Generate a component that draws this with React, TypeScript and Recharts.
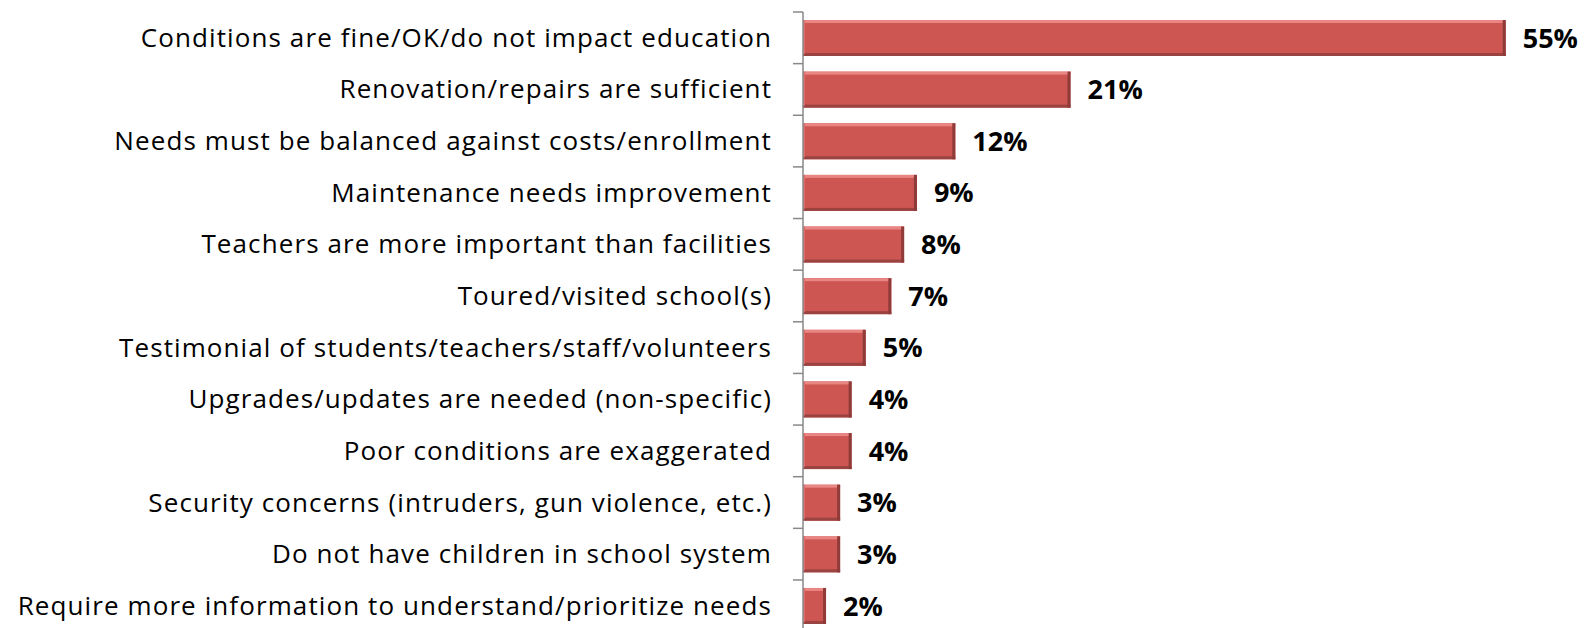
import { BarChart, Bar, XAxis, YAxis, LabelList } from "recharts";

const categories = [
  "Conditions are fine/OK/do not impact education",
  "Renovation/repairs are sufficient",
  "Needs must be balanced against costs/enrollment",
  "Maintenance needs improvement",
  "Teachers are more important than facilities",
  "Toured/visited school(s)",
  "Testimonial of students/teachers/staff/volunteers",
  "Upgrades/updates are needed (non-specific)",
  "Poor conditions are exaggerated",
  "Security concerns (intruders, gun violence, etc.)",
  "Do not have children in school system",
  "Require more information to understand/prioritize needs",
];

const shares = [54.9, 20.9, 11.9, 8.9, 7.9, 6.9, 4.9, 3.8, 3.8, 2.9, 2.9, 1.8];

const data = categories.map((category, i) => ({ category, share: shares[i] }));

const font = "'Open Sans', 'Noto Sans', sans-serif";
const axisX = 803;

function BevelBar(props: any) {
  const { x, y, width, height } = props;
  if (!width || width <= 0) return null;
  return (
    <g>
      <rect x={x} y={y} width={width} height={height} fill="#cd5653" />
      <rect x={x} y={y} width={width} height={3} fill="#e98683" />
      <rect x={x} y={y + height - 3} width={width} height={3} fill="#9a4341" />
      <rect x={x + width - 3} y={y} width={3} height={height} fill="#8e3b39" />
      <rect x={x} y={y} width={2} height={height - 2} fill="#dc6d6a" />
    </g>
  );
}

function CategoryTick(props: any) {
  const { y, payload } = props;
  const band = 51.63;
  return (
    <g>
      <line x1={axisX - 10} x2={axisX} y1={y - band / 2} y2={y - band / 2} stroke="#888" strokeWidth={1.5} />
      <text x={axisX - 31} y={y} dy={9} textAnchor="end" fill="#000" fontSize={26} letterSpacing={1.1} fontFamily={font}>
        {payload.value}
      </text>
    </g>
  );
}

export default function App() {
  return (
    <div style={{ width: 1593, height: 628, overflow: "hidden", position: "absolute", left: 0, top: 0, background: "#fff" }}>
      <BarChart
        width={1593}
        height={640}
        data={data}
        layout="vertical"
        margin={{ top: 12, right: 22, bottom: 8.4, left: 0 }}
      >
        <XAxis type="number" domain={[0, 60]} hide />
        <YAxis
          type="category"
          dataKey="category"
          width={axisX}
          axisLine={{ stroke: "#888", strokeWidth: 1.5 }}
          tickLine={false}
          interval={0}
          tick={<CategoryTick />}
        />
        <Bar dataKey="share" barSize={36} shape={<BevelBar />} isAnimationActive={false}>
          <LabelList
            dataKey="share"
            position="right"
            offset={17}
            formatter={(v: any) => `${Math.round(Number(v))}%`}
            style={{ fontWeight: 700, fontSize: 27, fontFamily: font, fill: "#000" }}
          />
        </Bar>
      </BarChart>
    </div>
  );
}
